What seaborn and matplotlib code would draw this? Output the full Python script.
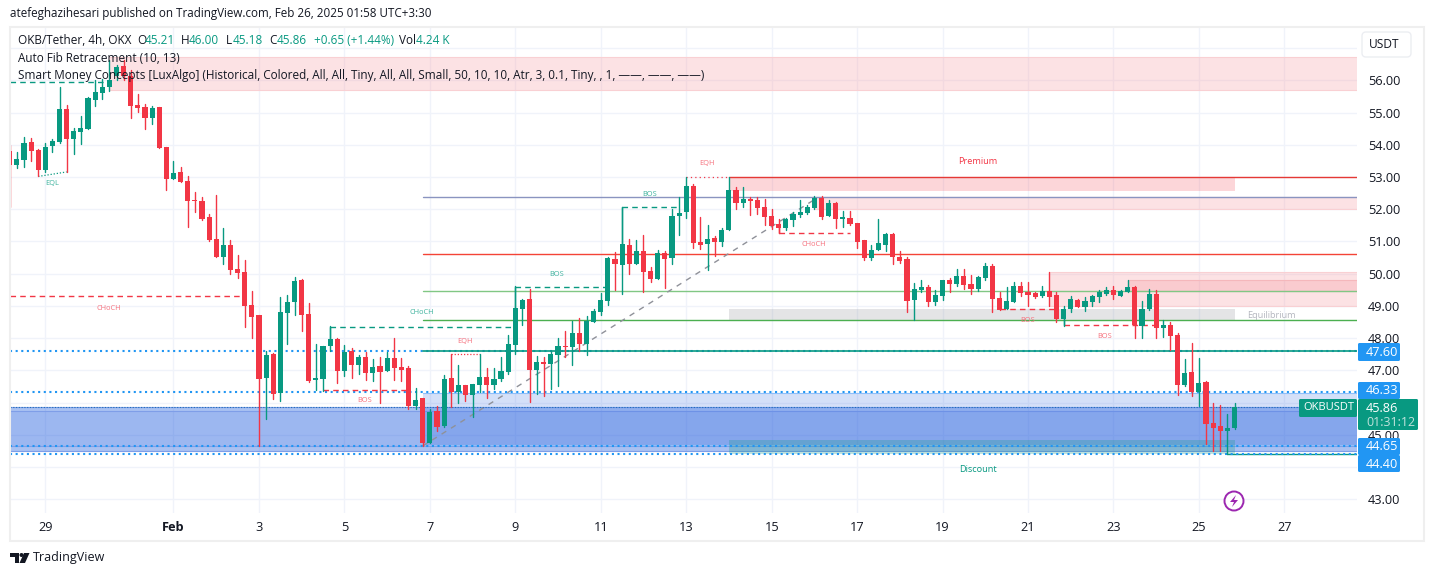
import numpy as np
import pandas as pd
import matplotlib
matplotlib.use("Agg")
import matplotlib.pyplot as plt
import seaborn as sns
from matplotlib.patches import Rectangle, FancyBboxPatch, Circle, Polygon
from matplotlib.transforms import Affine2D

# OKB/USDT 4h candles
opens = [53.81,53.37,53.53,54.09,53.84,53.22,53.96,54.09,55.11,54.18,54.40,54.49,55.39,55.61,55.79,56.14,56.45,56.14,55.24,55.17,
         54.83,55.17,53.93,52.94,53.16,52.88,52.29,52.25,51.76,51.07,50.52,50.89,50.14,50.05,49.02,48.71,46.76,47.50,46.29,48.78,
         49.12,49.80,48.75,46.70,46.73,47.75,47.97,46.98,47.60,47.16,47.41,46.91,47.13,46.98,47.38,47.10,47.07,45.89,46.14,44.74,
         45.73,45.27,46.76,46.32,46.54,46.23,46.54,46.79,46.54,46.73,46.95,47.78,48.90,49.21,47.01,47.26,47.19,47.47,47.75,47.72,
         48.16,47.81,48.50,48.81,49.15,50.45,50.27,50.89,50.30,50.70,50.08,49.83,50.64,50.48,51.79,51.91,52.72,50.98,50.92,51.11,
         50.98,51.35,52.60,52.19,52.32,52.29,52.07,51.79,51.54,51.42,51.66,51.82,51.88,52.04,52.35,51.79,52.19,51.71,51.73,51.57,
         51.04,50.48,50.73,50.89,51.23,50.52,50.45,49.18,49.49,49.58,49.12,49.31,49.80,49.68,49.93,49.68,49.52,49.86,50.24,49.24,
         48.90,49.12,49.62,49.43,49.40,49.31,49.46,49.34,48.59,48.90,49.18,48.96,49.12,49.27,49.37,49.49,49.31,49.43,49.58,48.37,
         48.90,49.37,48.31,48.40,48.09,46.54,46.95,46.32,46.63,45.36,45.27,45.11,45.21]
highs = [53.99,53.78,54.25,54.21,53.87,54.06,54.18,55.79,55.24,54.52,54.89,55.48,56.01,56.04,56.63,56.48,56.63,56.32,55.58,55.27,
         55.20,55.17,53.93,53.50,53.31,53.03,52.53,52.38,51.85,52.44,51.42,51.04,50.58,50.42,49.46,48.71,47.60,47.53,49.27,49.34,
         49.89,49.83,49.09,47.81,47.75,48.37,48.00,47.78,47.69,47.47,47.57,47.35,47.41,47.57,48.00,47.38,47.13,46.45,46.14,45.80,
         45.89,46.85,47.50,47.16,46.54,46.57,47.50,47.07,47.07,47.41,48.09,49.62,49.21,49.52,47.44,47.41,47.60,48.00,48.22,48.53,
         48.62,48.68,48.90,49.40,50.52,50.67,52.06,51.07,51.04,51.20,50.21,50.73,50.70,52.01,52.38,52.99,52.78,51.76,51.51,51.17,
         51.42,52.99,52.69,52.69,52.38,52.38,52.32,52.01,51.70,51.73,51.91,52.29,52.13,52.41,52.41,52.29,52.22,51.94,51.94,51.57,
         51.04,50.89,51.70,51.26,51.26,50.70,50.52,49.71,49.80,49.65,49.49,49.80,49.86,50.14,50.14,49.96,49.93,50.33,50.30,49.43,
         49.58,49.74,49.74,49.74,49.43,49.62,50.05,49.43,48.99,49.31,49.21,49.27,49.34,49.49,49.58,49.62,49.49,49.80,49.62,49.15,
         49.52,49.49,48.56,48.50,48.16,47.35,47.85,47.38,46.67,45.98,45.92,45.64,46.00]
lows = [52.08,53.29,53.32,53.50,53.02,53.16,53.78,54.06,53.16,53.71,54.02,54.49,55.20,55.42,55.67,56.01,56.01,54.83,55.02,54.49,
        54.65,53.90,52.60,52.94,52.84,51.45,51.91,51.66,51.01,50.52,50.30,49.99,49.86,48.34,48.00,44.65,45.48,46.11,46.04,47.81,
        48.71,48.22,46.63,46.39,46.36,47.60,46.60,46.82,46.76,46.88,46.70,46.67,45.98,46.98,46.70,46.67,45.80,45.80,44.65,44.74,
        45.11,45.24,45.86,45.98,46.04,45.55,46.32,46.14,46.42,46.67,46.88,47.50,48.40,46.01,46.26,46.20,46.42,46.51,47.41,47.16,
        47.60,47.47,48.50,48.72,49.03,49.49,49.37,49.99,50.30,49.43,49.74,49.83,49.55,50.30,51.20,51.73,50.80,50.76,50.11,50.55,
        50.86,51.35,52.01,52.07,51.82,51.85,51.51,51.39,51.25,51.35,51.48,51.76,51.85,52.01,51.70,51.79,51.42,51.45,51.51,50.80,
        50.42,50.42,50.73,50.70,50.30,50.33,48.81,48.56,49.43,48.99,49.03,49.18,49.43,49.62,49.52,49.37,49.46,49.80,48.81,48.87,
        48.90,49.12,49.31,48.99,49.24,49.27,48.99,48.50,48.37,48.81,48.96,48.84,48.99,49.12,49.34,49.21,49.31,49.43,48.00,48.00,
        48.87,48.00,48.03,47.63,46.23,46.51,46.20,45.89,44.71,44.49,44.49,44.40,45.18]
closes = [53.37,53.56,54.06,53.81,53.22,53.93,54.12,55.11,54.18,54.43,54.52,55.45,55.64,55.79,56.01,56.42,56.14,55.20,55.14,54.83,
          55.14,53.90,52.94,53.12,52.84,52.25,52.25,51.70,51.04,50.52,50.89,50.11,50.02,48.99,48.65,46.73,47.47,46.26,48.81,49.12,
          49.77,48.71,46.67,46.76,47.75,47.97,46.98,47.57,47.16,47.41,46.91,47.10,46.94,47.38,47.07,47.01,45.89,46.08,44.74,45.70,
          45.24,46.73,46.32,46.54,46.23,46.57,46.79,46.54,46.73,46.98,47.81,48.93,49.18,47.01,47.26,47.19,47.50,47.75,47.72,48.16,
          47.81,48.53,48.84,49.18,50.48,50.30,50.92,50.30,50.70,50.05,49.83,50.64,50.45,51.79,51.88,52.72,50.95,50.89,51.07,50.98,
          51.35,52.60,52.19,52.32,52.25,52.04,51.76,51.48,51.42,51.70,51.85,51.91,52.07,52.35,51.76,52.19,51.70,51.73,51.54,50.98,
          50.48,50.73,50.95,51.23,50.52,50.39,49.15,49.52,49.58,49.12,49.34,49.80,49.68,49.93,49.65,49.52,49.90,50.24,49.21,48.87,
          49.15,49.62,49.40,49.34,49.27,49.46,49.27,48.59,48.90,49.21,48.96,49.15,49.31,49.43,49.49,49.34,49.46,49.58,48.40,48.90,
          49.37,48.31,48.40,48.06,46.54,46.91,46.32,46.60,45.33,45.21,45.11,45.21,45.86]

price_ticks = [43,44,45,46,47,48,49,50,51,52,53,54,55,56,57]
hidden_ticks = [44,46,57]
date_ticks = [5,23,35,47,59,71,83,95,107,119,131,143,155,167,179]
date_labels = ["29","Feb","3","5","7","9","11","13","15","17","19","21","23","25","27"]

level_tags = ["47.60","46.33","44.65","44.40"]
last_price = "45.86"
countdown = "01:31:12"

UP = "#089981"
DOWN = "#f23645"
BLUE = "#2196f3"
ZONE_BLUE = "#2a64e0"
INK = "#131722"
FONT = ["Open Sans", "DejaVu Sans"]

sns.set_theme(style="white")
plt.rcParams["font.family"] = FONT

W, H = 1433, 576
fig = plt.figure(figsize=(W / 100, H / 100), dpi=100, facecolor="white")
px = Affine2D().scale(1, -1).translate(0, H)

# plot area: x 10..1357, y 27..513 in pixels
ax = fig.add_axes([10 / W, 1 - 513 / H, 1347 / W, 486 / H])

df = pd.DataFrame({"i": np.arange(len(opens)), "o": opens, "h": highs, "l": lows, "c": closes})
df["up"] = df.c >= df.o
df["bottom"] = df[["o", "c"]].min(axis=1)
df["body"] = (df.o - df.c).abs().clip(lower=0.05)

ends = np.r_[0.04, 189.2]


def zone(x0, x1, y0, y1, color, alpha, edge=None, z=1):
    ax.add_patch(Rectangle((x0, y0), x1 - x0, y1 - y0, facecolor=color, alpha=alpha, lw=0, zorder=z))
    if edge:
        ax.plot([x0, x1], [y0, y0], color=edge, lw=0.8, zorder=z)
        ax.plot([x0, x1], [y1, y1], color=edge, lw=0.8, zorder=z)


def level(x0, x1, y, color, lw=1.0, ls="-", z=2):
    ax.plot([x0, x1], [y, y], color=color, lw=lw, ls=ls, zorder=z)


end = ends[1]
# supply / demand boxes
zone(14, end, 55.70, 56.73, "#f7a7ad", 0.33, "#f9d0d3")
zone(101, 172, 52.57, 53.00, "#f23645", 0.2)
zone(113, end, 52.00, 52.39, "#f7a7ad", 0.33, "#f9d0d3")
zone(146, end, 49.00, 50.04, "#f7a7ad", 0.33, "#f9d0d3")
zone(157, end, 49.46, 49.80, "#f23645", 0.13, "#f5b7bb")
zone(101, 172, 48.55, 48.90, "#787b86", 0.2)
zone(0, end, 44.50, 45.87, ZONE_BLUE, 0.40, "#7f9ee8")
zone(0, end, 44.65, 45.73, ZONE_BLUE, 0.10, "#7f9ee8")
zone(58, end, 44.68, 46.29, ZONE_BLUE, 0.20, "#90bff9")
zone(101, 172, 44.40, 44.83, UP, 0.25)

# fib and structure levels
level(101, end, 53.00, "#e53935")
level(58, end, 52.39, "#8a94c0")
level(58, end, 50.60, "#f44336")
level(58, end, 49.45, "#81c784")
level(58, end, 48.55, "#4caf50")
level(171, end, 44.40, UP)
ax.plot([58, 113], [44.65, 52.30], color="#8f9199", lw=1.0, ls=(0, (4, 4)), zorder=2)

dots = (0, (1, 1.7))
for y in [47.60, 46.33, 44.65, 44.40]:
    level(0, end, y, BLUE, lw=1.5, ls=dots)
level(0, end, 45.86, "#1f6fb8", lw=0.8, ls=(0, (1, 1.5)))
level(58, end, 47.60, UP, lw=1.2)

dash = (0, (4, 3))
level(0, 14, 55.94, UP, ls=dash)
level(0, 33, 49.30, DOWN, ls=dash)
level(45, 71, 48.36, UP, ls=dash)
level(44, 56, 46.38, DOWN, ls=dash)
level(71, 84, 49.60, UP, ls=dash)
level(86, 94, 52.07, UP, ls=dash)
level(108, 118, 51.25, DOWN, ls=dash)
level(139, 147, 48.89, DOWN, ls=dash)
level(148, 161, 48.40, DOWN, ls=dash)
level(62, 66, 47.50, DOWN, lw=0.9, ls=(0, (1, 1.5)))
level(95, 101, 52.99, DOWN, lw=0.9, ls=(0, (1, 2.5)))
ax.plot([4, 8], [53.02, 53.16], color=UP, lw=0.9, ls=(0, (1, 1.5)), zorder=2)
ax.plot([45, 45], [47.96, 48.36], color=UP, lw=1.0, zorder=2)
ax.plot([71, 71], [48.90, 49.60], color=UP, lw=1.0, zorder=2)
ax.plot([86, 86], [50.92, 52.07], color=UP, lw=1.0, zorder=2)
ax.plot([108, 108], [51.25, 51.54], color=DOWN, lw=1.0, zorder=2)
ax.plot([148, 148], [48.40, 48.59], color=UP, lw=1.0, zorder=2)

# candles
wicks = df.melt(id_vars=["i", "up"], value_vars=["h", "l"], value_name="price")
sns.lineplot(data=wicks, x="i", y="price", units="i", estimator=None, hue="up",
             palette={True: UP, False: DOWN}, legend=False, lw=1.0, ax=ax, zorder=3, sort=False)
for is_up, color in [(True, UP), (False, DOWN)]:
    part = df[df.up == is_up]
    sns.barplot(data=part, x="i", y="body", bottom=part.bottom.values, native_scale=True, color=color,
                saturation=1, errorbar=None, width=0.72, ax=ax, zorder=4, linewidth=0)

ax.set_xlim(*ends)
ax.set_ylim(42.57, 57.66)
ax.set_xlabel("")
ax.set_ylabel("")
ax.set_xticks(date_ticks)
ax.set_xticklabels(date_labels, fontsize=9.2, color=INK)
ax.get_xticklabels()[1].set_fontweight("bold")
ax.yaxis.tick_right()
ax.set_yticks(price_ticks)
ax.set_yticklabels(["" if v in hidden_ticks else f"{v:.2f}" for v in price_ticks], fontsize=9.2, color=INK)
ax.tick_params(length=0, pad=8)
ax.tick_params(axis="x", pad=6)
ax.grid(True, color="#f0f3fa", lw=1)
ax.set_axisbelow(True)
for s in ax.spines.values():
    s.set_visible(False)


# small labels of the indicator, placed in pixels
def label(x, y, s, color, size=5.3, ha="center", **kw):
    fig.text(x, y, s, transform=px, color=color, fontsize=size, ha=ha, va="center", zorder=6, **kw)


soft_up = "#3fb39e"
soft_down = "#f6727e"
label(52, 184, "EQL", soft_up)
label(109, 308, "CHoCH", soft_down)
label(422, 313, "CHoCH", soft_up)
label(365, 401, "BOS", soft_down)
label(465, 342, "EQH", soft_down)
label(557, 274, "BOS", soft_up)
label(650, 194, "BOS", soft_up)
label(707, 164, "EQH", soft_down)
label(814, 245, "CHoCH", soft_down)
label(1028, 321, "BOS", soft_down)
label(1105, 336, "BOS", soft_down)
label(978, 161, "Premium", DOWN, size=6.6)
label(1271, 315, "Equilibrium", "#b4b6bf", size=6.6)
label(978, 470, "Discount", UP, size=6.6)

# frame of the chart
fig.add_artist(Rectangle((10, 27), 1414, 514, transform=px, fill=False, ec="#efefef", lw=1.5, zorder=1))

# header and legend rows
label(10, 14, "atefeghazihesari published on TradingView.com, Feb 26, 2025 01:58 UTC+3:30", INK, size=8.4, ha="left")
label(18, 41, "OKB/Tether, 4h, OKX", INK, size=8.5, ha="left")
for x, s, c in [(137, "O", INK), (145, "45.21", UP), (181, "H", INK), (189, "46.00", UP), (226, "L", INK),
                (233, "45.18", UP), (269, "C", INK), (277, "45.86", UP), (314, "+0.65 (+1.44%)", UP),
                (399, "Vol", INK), (416, "4.24 K", UP)]:
    label(x, 41, s, c, size=8.5, ha="left")
label(18, 59, "Auto Fib Retracement (10, 13)", INK, size=8.5, ha="left")
label(18, 76, "Smart Money Concepts [LuxAlgo] (Historical, Colored, All, All, Tiny, All, All, Small, 50, 10, 10, "
              "Atr, 3, 0.1, Tiny, , 1, \u2014\u2014, \u2014\u2014, \u2014\u2014)", INK, size=8.5, ha="left")

# USDT button
fig.add_artist(FancyBboxPatch((1362, 32), 49, 25, boxstyle="round,pad=0,rounding_size=4", transform=px,
                              fc="white", ec="#eceef2", lw=1, zorder=5))
label(1384, 44, "USDT", INK, size=8.6)


def tag(x, y, w, h, color):
    fig.add_artist(FancyBboxPatch((x, y), w, h, boxstyle="round,pad=0,rounding_size=1.5", transform=px,
                                  fc=color, ec="none", zorder=5))


tag(1358, 343, 42, 18, BLUE)
tag(1358, 382, 42, 17, BLUE)
tag(1358, 438, 42, 17, BLUE)
tag(1358, 455, 42, 17, BLUE)
for y, s in zip([352, 390, 446, 464], level_tags):
    label(1366, y, s, "white", size=9.2, ha="left")
tag(1358, 399, 60, 31, UP)
tag(1299, 399, 58, 18, UP)
label(1303, 408, "OKBUSDT", "white", size=8.0, ha="left")
label(1366, 408, last_price, "white", size=9.2, ha="left")
label(1366, 422, countdown, "#bfe3dc", size=8.9, ha="left")

# lightning mark
fig.add_artist(Circle((1234, 501), 9.5, transform=px, fc="white", ec="#9c27b0", lw=1.4, zorder=5))
fig.add_artist(Polygon([(1236, 495), (1230, 502), (1234, 502), (1232, 507), (1238, 500), (1234, 500)],
                       transform=px, fc="#9c27b0", ec="none", zorder=6))

# TradingView mark
fig.add_artist(Polygon([(10, 553), (19, 553), (19, 563), (15, 563), (15, 557), (10, 557)], transform=px, fc=INK, ec="none"))
fig.add_artist(Circle((21.5, 555), 2, transform=px, fc=INK, ec="none"))
fig.add_artist(Polygon([(24, 553), (29.5, 553), (25, 563), (19.5, 563)], transform=px, fc=INK, ec="none"))
label(33, 558, "TradingView", INK, size=9.0, ha="left")

fig.savefig("out.png", dpi=100)
